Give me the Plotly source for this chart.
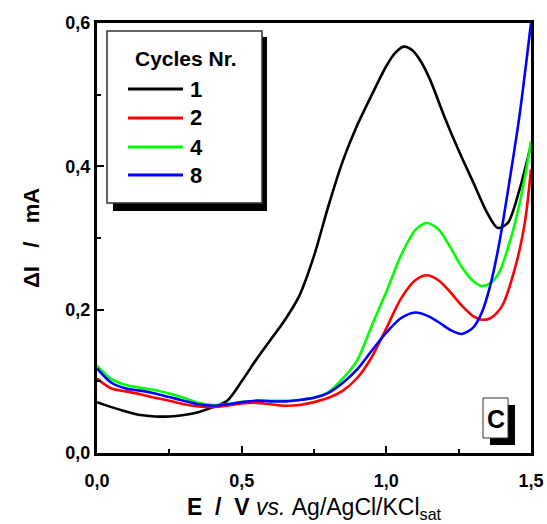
import plotly.graph_objects as go

# ---------------- data ----------------
E_black = [0.00, 0.05, 0.10, 0.15, 0.20, 0.25, 0.30, 0.35, 0.40, 0.45, 0.50, 0.55, 0.60, 0.65,
           0.70, 0.75, 0.80, 0.85, 0.90, 0.95, 1.00, 1.03, 1.06, 1.09, 1.12, 1.15, 1.20, 1.25,
           1.30, 1.35, 1.385, 1.42, 1.46, 1.50]
I_cycle1 = [0.071, 0.064, 0.058, 0.053, 0.051, 0.051, 0.053, 0.057, 0.064, 0.073, 0.100, 0.130,
            0.158, 0.186, 0.220, 0.275, 0.345, 0.408, 0.458, 0.500, 0.540, 0.558, 0.567, 0.562,
            0.546, 0.522, 0.470, 0.422, 0.378, 0.334, 0.314, 0.321, 0.367, 0.430]

E_green = [0.00, 0.05, 0.10, 0.15, 0.20, 0.25, 0.30, 0.35, 0.40, 0.45, 0.50, 0.55, 0.60, 0.65,
           0.70, 0.75, 0.80, 0.85, 0.90, 0.95, 1.00, 1.05, 1.10, 1.14, 1.18, 1.22, 1.26, 1.30,
           1.33, 1.36, 1.39, 1.43, 1.47, 1.50]
I_cycle4 = [0.122, 0.103, 0.095, 0.091, 0.088, 0.083, 0.077, 0.070, 0.067, 0.068, 0.071, 0.073,
            0.073, 0.073, 0.074, 0.077, 0.085, 0.104, 0.130, 0.178, 0.225, 0.275, 0.311, 0.321,
            0.312, 0.288, 0.260, 0.240, 0.233, 0.237, 0.252, 0.299, 0.366, 0.435]

E_red = [0.00, 0.05, 0.10, 0.15, 0.20, 0.25, 0.30, 0.35, 0.40, 0.45, 0.50, 0.55, 0.60, 0.65,
         0.70, 0.75, 0.80, 0.85, 0.90, 0.95, 1.00, 1.05, 1.10, 1.14, 1.18, 1.22, 1.26, 1.30,
         1.33, 1.36, 1.40, 1.45, 1.48, 1.50]
I_cycle2 = [0.104, 0.090, 0.086, 0.082, 0.077, 0.073, 0.068, 0.065, 0.064, 0.066, 0.069, 0.070,
            0.068, 0.066, 0.067, 0.071, 0.077, 0.087, 0.105, 0.134, 0.174, 0.215, 0.241, 0.248,
            0.241, 0.225, 0.206, 0.191, 0.186, 0.188, 0.205, 0.266, 0.325, 0.396]

E_blue = [0.00, 0.05, 0.10, 0.15, 0.20, 0.25, 0.30, 0.35, 0.40, 0.45, 0.50, 0.55, 0.60, 0.65,
          0.70, 0.75, 0.80, 0.85, 0.90, 0.95, 1.00, 1.05, 1.10, 1.15, 1.19, 1.22, 1.26, 1.30,
          1.33, 1.36, 1.39, 1.42, 1.46, 1.50]
I_cycle8 = [0.118, 0.098, 0.090, 0.087, 0.083, 0.078, 0.073, 0.068, 0.066, 0.068, 0.071, 0.073,
            0.072, 0.072, 0.074, 0.077, 0.084, 0.098, 0.117, 0.143, 0.168, 0.188, 0.196, 0.190,
            0.180, 0.172, 0.166, 0.175, 0.196, 0.235, 0.292, 0.365, 0.470, 0.600]

series_names = ["1", "2", "4", "8"]
series_colors = ["#000000", "#ff0000", "#00ff00", "#0000ff"]
series_x = [E_black, E_red, E_green, E_blue]
series_y = [I_cycle1, I_cycle2, I_cycle4, I_cycle8]

x_ticks = [0.0, 0.5, 1.0, 1.5]
y_ticks = [0.0, 0.2, 0.4, 0.6]

# ---------------- layout constants ----------------
W, H = 547, 524
ML, MR, MT, MB = 97, 16, 23, 71
PW, PH = W - ML - MR, H - MT - MB
FONT = "Liberation Sans, Arial, sans-serif"


def px(x):
    return (x - ML) / PW


def py(y):
    return (H - MB - y) / PH


fig = go.Figure()
# draw order: black, green, red, blue (blue on top)
order = [0, 2, 1, 3]
for i in order:
    fig.add_trace(go.Scatter(
        x=series_x[i], y=series_y[i], mode="lines", name=series_names[i],
        line=dict(color=series_colors[i], width=2.6, shape="spline", smoothing=0.8),
        showlegend=False,
    ))

shapes = []
annotations = []

# legend box with shadow
lx0, ly0, lx1, ly1 = 107, 31, 262, 203
shapes.append(dict(type="rect", xref="paper", yref="paper",
                   x0=px(lx0 + 6), x1=px(lx1 + 5), y0=py(ly1 + 8), y1=py(ly0 + 6),
                   fillcolor="black", line=dict(width=0), layer="above"))
shapes.append(dict(type="rect", xref="paper", yref="paper",
                   x0=px(lx0), x1=px(lx1), y0=py(ly1), y1=py(ly0),
                   fillcolor="white", line=dict(color="#333333", width=1.5), layer="above"))
annotations.append(dict(text="<b>Cycles Nr.</b>", xref="paper", yref="paper",
                        x=px(186), y=py(59), showarrow=False, xanchor="center", yanchor="middle",
                        font=dict(family=FONT, size=21, color="black")))
rows = [89, 118, 147, 175]
for name, col, ry in zip(series_names, series_colors, rows):
    shapes.append(dict(type="line", xref="paper", yref="paper",
                       x0=px(128), x1=px(183), y0=py(ry), y1=py(ry),
                       line=dict(color=col, width=3), layer="above"))
    annotations.append(dict(text="<b>%s</b>" % name, xref="paper", yref="paper",
                            x=px(188), y=py(ry), showarrow=False, xanchor="left", yanchor="middle",
                            font=dict(family=FONT, size=22, color="black")))

# "C" label box
cx0, cy0, cx1, cy1 = 483, 398, 508, 438
shapes.append(dict(type="rect", xref="paper", yref="paper",
                   x0=px(cx0 + 7), x1=px(cx1 + 7), y0=py(cy1 + 7), y1=py(cy0 + 7),
                   fillcolor="black", line=dict(width=0), layer="above"))
shapes.append(dict(type="rect", xref="paper", yref="paper",
                   x0=px(cx0), x1=px(cx1), y0=py(cy1), y1=py(cy0),
                   fillcolor="white", line=dict(color="#333333", width=1), layer="above"))
annotations.append(dict(text="<b>C</b>", xref="paper", yref="paper",
                        x=px((cx0 + cx1) / 2), y=py((cy0 + cy1) / 2 + 1), showarrow=False,
                        xanchor="center", yanchor="middle",
                        font=dict(family=FONT, size=25, color="black")))

sp = "\u00a0"
xtitle = ("<b>E" + sp * 2 + "/" + sp * 2 + "V</b>" + sp + "<i>vs.</i>" + sp +
          "Ag/AgCl/KCl<sub>sat</sub>")
ytitle = "<b>\u0394I" + sp * 3 + "/" + sp * 3 + "mA</b>"

fig.update_layout(
    width=W, height=H,
    margin=dict(l=ML, r=MR, t=MT, b=MB, pad=0),
    paper_bgcolor="white", plot_bgcolor="white",
    separators=", ",
    font=dict(family=FONT, color="black"),
    shapes=shapes, annotations=annotations,
    showlegend=False,
    xaxis=dict(
        range=[0, 1.5], tickvals=x_ticks, tickformat=".1f", automargin=False,
        ticks="inside", ticklen=7, tickwidth=2, tickcolor="black", ticklabelstandoff=9,
        minor=dict(dtick=0.25, ticks="inside", ticklen=4, tickwidth=2, tickcolor="black", showgrid=False),
        showline=True, linewidth=3, linecolor="black", mirror=True,
        showgrid=False, zeroline=False,
        tickfont=dict(family=FONT, size=18, color="black", weight="bold"),
        title=dict(text=xtitle, font=dict(family=FONT, size=23, color="black"), standoff=10),
    ),
    yaxis=dict(
        range=[0, 0.6], tickvals=y_ticks, tickformat=".1f", automargin=False,
        ticks="inside", ticklen=7, tickwidth=2, tickcolor="black",
        minor=dict(dtick=0.1, ticks="inside", ticklen=4, tickwidth=2, tickcolor="black", showgrid=False),
        showline=True, linewidth=3, linecolor="black", mirror=True,
        showgrid=False, zeroline=False,
        tickfont=dict(family=FONT, size=18, color="black", weight="bold"),
        title=dict(text=ytitle, font=dict(family=FONT, size=22, color="black"), standoff=20),
    ),
)

fig.write_html("out.html")
